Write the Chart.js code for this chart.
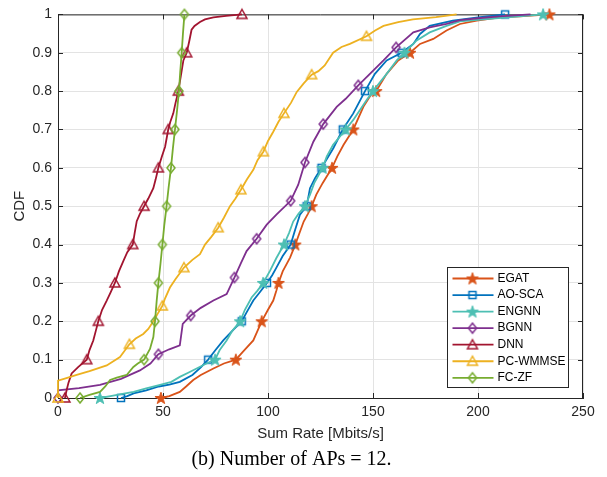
<!DOCTYPE html>
<html>
<head>
<meta charset="utf-8">
<script src="https://cdn.jsdelivr.net/npm/chart.js@4.4.1/dist/chart.umd.min.js"></script>
<style>
  html, body { margin: 0; padding: 0; background: #fff; }
  canvas { display: block; }
</style>
</head>
<body>
<canvas id="cdfChart" width="607" height="477"></canvas>
<script>
const xTicks = [0, 50, 100, 150, 200, 250];
const yTicks = [0, 0.1, 0.2, 0.3, 0.4, 0.5, 0.6, 0.7, 0.8, 0.9, 1];
const yTickLabels = ["0", "0.1", "0.2", "0.3", "0.4", "0.5", "0.6", "0.7", "0.8", "0.9", "1"];

// [sum rate, cdf] pairs
const egatLine = [[49,0],[53,0.005],[58,0.016],[61,0.03],[64.4,0.047],[68,0.06],[74,0.077],[79,0.09],[84.7,0.1],[88,0.12],[93,0.15],[95,0.175],[97,0.2],[100,0.23],[102.5,0.254],[104,0.28],[105,0.3],[107,0.33],[110.5,0.366],[113,0.4],[115,0.43],[117,0.46],[119,0.48],[120.8,0.5],[123,0.53],[126,0.56],[130.5,0.6],[133,0.63],[136,0.66],[140.6,0.7],[145.4,0.759],[149.4,0.794],[151.5,0.8],[156.5,0.845],[162,0.88],[167.6,0.9],[172.4,0.923],[178.7,0.936],[185,0.958],[191.4,0.975],[199.4,0.984],[210.5,0.992],[220,0.995],[234,1]];
const egatMarks = [[49,0],[84.7,0.1],[97,0.2],[105,0.3],[113,0.4],[120.8,0.5],[130.5,0.6],[140.6,0.7],[151.5,0.8],[167.6,0.9],[234,1]];

const aoscaLine = [[30,0],[33,0.005],[36,0.012],[42,0.02],[48,0.03],[53,0.035],[58,0.042],[64,0.06],[68,0.08],[71.5,0.1],[75,0.125],[78.7,0.15],[83,0.175],[87.5,0.2],[90,0.225],[93,0.254],[96,0.275],[99.5,0.3],[102,0.32],[104,0.34],[107,0.37],[110.8,0.4],[113,0.44],[115.2,0.478],[118.4,0.5],[120,0.547],[122.4,0.573],[125.5,0.6],[131.1,0.651],[135.6,0.7],[140.6,0.742],[146.2,0.8],[150.9,0.845],[156.5,0.88],[163.6,0.9],[169.2,0.923],[172.4,0.949],[177,0.97],[188,0.984],[200,0.992],[212.9,1]];
const aoscaMarks = [[30,0],[71.5,0.1],[87.5,0.2],[99.5,0.3],[110.8,0.4],[118.4,0.5],[125.5,0.6],[135.6,0.7],[146.2,0.8],[163.6,0.9],[212.9,1]];

const engnnLine = [[20,0],[25,0.005],[30,0.01],[36,0.016],[42,0.025],[48.6,0.034],[54,0.042],[58,0.055],[62,0.066],[66,0.077],[70,0.088],[74.8,0.1],[77,0.125],[80.3,0.15],[83,0.175],[86.7,0.2],[89,0.23],[92.2,0.262],[95,0.28],[97.7,0.3],[101,0.332],[104,0.365],[107.6,0.4],[110,0.43],[112,0.46],[114.5,0.48],[117.6,0.5],[120,0.53],[122,0.56],[126,0.6],[128,0.63],[131,0.66],[137,0.7],[140.6,0.725],[146.9,0.776],[150,0.8],[156.5,0.845],[161.3,0.88],[165,0.9],[170.8,0.932],[177,0.953],[185,0.97],[191.4,0.982],[204,0.988],[231,1]];
const engnnMarks = [[20,0],[74.8,0.1],[86.7,0.2],[97.7,0.3],[107.6,0.4],[117.6,0.5],[126,0.6],[137,0.7],[150,0.8],[165,0.9],[231,1]];

const bgnnLine = [[0,0],[0,0.02],[10,0.026],[20,0.034],[30,0.05],[39,0.072],[44,0.09],[47.8,0.114],[53,0.127],[58,0.137],[59.4,0.193],[63.2,0.215],[68,0.235],[74,0.254],[80.3,0.271],[84,0.314],[87,0.35],[89.8,0.383],[94.6,0.415],[99.4,0.452],[104,0.478],[110.8,0.514],[114.4,0.556],[117.6,0.614],[121.6,0.668],[126.3,0.714],[132.7,0.759],[137,0.78],[143,0.815],[150.2,0.854],[155,0.88],[161,0.914],[169.2,0.953],[177,0.966],[185,0.975],[191.4,0.985],[200,0.99],[210,0.995],[225,1]];
const bgnnMarks = [[0,0],[47.8,0.114],[63.2,0.215],[84,0.314],[94.6,0.415],[110.8,0.514],[117.6,0.614],[126.3,0.714],[143,0.815],[161,0.914]];

const dnnLine = [[3.3,0],[4.1,0.02],[5,0.04],[6.5,0.064],[9.7,0.081],[13.7,0.1],[15,0.125],[16.8,0.15],[18,0.175],[19.2,0.2],[21,0.23],[23.2,0.254],[25,0.275],[27.1,0.3],[29,0.33],[31.1,0.357],[33,0.38],[35.6,0.4],[36.5,0.43],[37.5,0.461],[39,0.48],[41,0.5],[43,0.52],[45.4,0.547],[46.5,0.57],[47.8,0.6],[49.5,0.63],[51,0.655],[52.5,0.7],[53.5,0.72],[54.9,0.742],[56,0.77],[57.3,0.8],[58.5,0.84],[59.7,0.88],[61.3,0.9],[62.5,0.93],[63.6,0.96],[65,0.97],[67.6,0.98],[70,0.987],[74,0.992],[80,0.996],[87.6,1]];
const dnnMarks = [[3.3,0],[13.7,0.1],[19.2,0.2],[27.1,0.3],[35.6,0.4],[41,0.5],[47.8,0.6],[52.5,0.7],[57.3,0.8],[61.3,0.9],[87.6,1]];

const wmmseLine = [[0,0],[0,0.045],[4,0.052],[8.9,0.06],[15,0.07],[23.2,0.085],[29.5,0.107],[34,0.14],[37,0.155],[40.6,0.167],[43,0.18],[45.4,0.2],[47.5,0.22],[49.7,0.24],[51,0.26],[53.3,0.288],[56,0.31],[60,0.34],[64,0.36],[67.6,0.375],[70,0.4],[73,0.42],[76.3,0.444],[79,0.47],[81.9,0.5],[84.5,0.52],[87.1,0.543],[90,0.57],[93,0.595],[95,0.62],[97.8,0.642],[100,0.67],[102.5,0.694],[105,0.72],[107.6,0.742],[111,0.77],[113.7,0.798],[117,0.82],[120.8,0.843],[124,0.852],[127,0.867],[131,0.9],[135,0.915],[139,0.923],[146.9,0.943],[151,0.958],[155,0.97],[162,0.98],[169,0.987],[180,0.993],[189.8,1]];
const wmmseMarks = [[0,0],[34,0.14],[49.7,0.24],[60,0.34],[76.3,0.444],[87.1,0.543],[97.8,0.642],[107.6,0.742],[120.8,0.843],[146.9,0.943]];

const fczfLine = [[10.5,0],[15,0.008],[20,0.016],[22.5,0.03],[24.8,0.047],[28,0.053],[32.7,0.06],[35.9,0.081],[38,0.09],[41,0.1],[43.8,0.128],[45.4,0.159],[46.2,0.2],[47,0.254],[47.8,0.3],[48.8,0.35],[49.7,0.4],[50.6,0.45],[51.7,0.5],[52.7,0.55],[53.8,0.6],[54.7,0.65],[55.7,0.7],[56.7,0.75],[57.6,0.8],[58.2,0.85],[58.9,0.9],[59.5,0.95],[60.2,1]];
const fczfMarks = [[10.5,0],[41,0.1],[46.2,0.2],[47.8,0.3],[49.7,0.4],[51.7,0.5],[53.8,0.6],[55.7,0.7],[57.6,0.8],[58.9,0.9],[60.2,1]];

const series = [
  { name: "EGAT", color: "#D95319", shape: "pentagram", line: egatLine, marks: egatMarks },
  { name: "AO-SCA", color: "#0072BD", shape: "square", line: aoscaLine, marks: aoscaMarks },
  { name: "ENGNN", color: "#4DBFB3", shape: "pentagram", line: engnnLine, marks: engnnMarks },
  { name: "BGNN", color: "#7E2F8E", shape: "diamond", line: bgnnLine, marks: bgnnMarks },
  { name: "DNN", color: "#A2142F", shape: "triangle", line: dnnLine, marks: dnnMarks },
  { name: "PC-WMMSE", color: "#EDB120", shape: "triangle", line: wmmseLine, marks: wmmseMarks },
  { name: "FC-ZF", color: "#77AC30", shape: "diamond", line: fczfLine, marks: fczfMarks },
];

const AXIS = "#262626";
const GRID = "#e3e3e3";

function makeMarker(shape, color) {
  const size = 16;
  const c = document.createElement("canvas");
  c.width = size;
  c.height = size;
  const g = c.getContext("2d");
  const m = size / 2;
  g.strokeStyle = color;
  g.fillStyle = color;
  g.lineWidth = 1.5;
  g.beginPath();
  if (shape === "pentagram") {
    for (let i = 0; i < 10; i++) {
      const a = -Math.PI / 2 + (i * Math.PI) / 5;
      const r = i % 2 ? 2.5 : 6.3;
      const px = m + r * Math.cos(a);
      const py = m + 0.5 + r * Math.sin(a);
      if (i === 0) g.moveTo(px, py);
      else g.lineTo(px, py);
    }
    g.closePath();
    g.fill();
    g.lineWidth = 1;
    g.stroke();
  } else if (shape === "square") {
    g.rect(m - 3.5, m - 3.5, 7, 7);
    g.stroke();
  } else if (shape === "diamond") {
    g.moveTo(m, m - 5);
    g.lineTo(m + 4, m);
    g.lineTo(m, m + 5);
    g.lineTo(m - 4, m);
    g.closePath();
    g.stroke();
  } else {
    g.moveTo(m, m - 5);
    g.lineTo(m + 5, m + 4);
    g.lineTo(m - 5, m + 4);
    g.closePath();
    g.stroke();
  }
  return c;
}

const markerImgs = series.map((s) => makeMarker(s.shape, s.color));

const datasets = [];
series.forEach((s, i) => {
  datasets.push({
    label: s.name,
    data: s.line.map(([x, y]) => ({ x, y })),
    showLine: true,
    borderColor: s.color,
    borderWidth: 1.8,
    pointRadius: 0,
    fill: false,
    tension: 0,
    clip: false,
    order: 2 * (series.length - 1 - i) + 1,
  });
  datasets.push({
    label: s.name + " markers",
    data: s.marks.map(([x, y]) => ({ x, y })),
    showLine: false,
    pointStyle: markerImgs[i],
    pointRadius: 5,
    clip: false,
    order: 2 * (series.length - 1 - i),
  });
});

// box around the axes with inward tick marks (matlab style)
const axesBox = {
  id: "axesBox",
  beforeDatasetsDraw(chart) {
    const { ctx, chartArea: a, scales } = chart;
    ctx.save();
    ctx.strokeStyle = AXIS;
    ctx.lineWidth = 1;
    ctx.beginPath();
    ctx.moveTo(a.left, a.top + 0.5);
    ctx.lineTo(a.right, a.top + 0.5);
    ctx.moveTo(a.right - 0.5, a.top);
    ctx.lineTo(a.right - 0.5, a.bottom);
    const tl = 5;
    xTicks.forEach((v) => {
      const px = Math.round(scales.x.getPixelForValue(v)) + 0.5;
      ctx.moveTo(px, a.bottom);
      ctx.lineTo(px, a.bottom - tl);
      ctx.moveTo(px, a.top);
      ctx.lineTo(px, a.top + tl);
    });
    yTicks.forEach((v) => {
      const py = Math.round(scales.y.getPixelForValue(v)) + 0.5;
      ctx.moveTo(a.left, py);
      ctx.lineTo(a.left + tl, py);
      ctx.moveTo(a.right, py);
      ctx.lineTo(a.right - tl, py);
    });
    ctx.stroke();
    ctx.restore();
  },
};

const boxLegend = {
  id: "boxLegend",
  afterDraw(chart) {
    const { ctx, chartArea: a } = chart;
    const w = 121;
    const h = 120;
    const left = Math.round(a.right - 15 - w) + 0.5;
    const top = Math.round(a.bottom - 11 - h) + 0.5;
    ctx.save();
    ctx.fillStyle = "#fff";
    ctx.fillRect(left, top, w, h);
    ctx.strokeStyle = AXIS;
    ctx.lineWidth = 1;
    ctx.strokeRect(left, top, w, h);
    ctx.font = '12px "Liberation Sans", Arial, sans-serif';
    ctx.textBaseline = "middle";
    ctx.fillStyle = "#000";
    series.forEach((s, i) => {
      const y = top + 11 + i * 16.55;
      ctx.strokeStyle = s.color;
      ctx.lineWidth = 1.8;
      ctx.beginPath();
      ctx.moveTo(left + 5, y);
      ctx.lineTo(left + 46, y);
      ctx.stroke();
      const img = markerImgs[i];
      ctx.drawImage(img, left + 25 - img.width / 2, y - img.height / 2);
      ctx.fillText(s.name, left + 50, y);
    });
    ctx.restore();
  },
};

Chart.defaults.font.family = '"Liberation Sans", Arial, Helvetica, sans-serif';
Chart.defaults.color = AXIS;

new Chart(document.getElementById("cdfChart"), {
  type: "scatter",
  data: { datasets },
  options: {
    responsive: false,
    animation: false,
    events: [],
    layout: { padding: { left: 0, right: 24, top: 12, bottom: 0 } },
    scales: {
      x: {
        type: "linear",
        min: 0,
        max: 250,
        afterBuildTicks: (s) => { s.ticks = xTicks.map((v) => ({ value: v })); },
        afterFit: (s) => { s.height = 50; },
        grid: { color: GRID, drawTicks: false },
        border: { color: AXIS, width: 1 },
        ticks: { padding: 6, font: { size: 14 }, color: AXIS, maxRotation: 0 },
        title: {
          display: true,
          text: "Sum Rate [Mbits/s]",
          font: { size: 15 },
          color: AXIS,
          padding: { top: 0, bottom: 5 },
        },
      },
      y: {
        type: "linear",
        min: 0,
        max: 1,
        afterBuildTicks: (s) => { s.ticks = yTicks.map((v) => ({ value: v })); },
        afterFit: (s) => { s.width = 58; },
        grid: { color: GRID, drawTicks: false },
        border: { color: AXIS, width: 1 },
        ticks: {
          padding: 6,
          font: { size: 14 },
          color: AXIS,
          callback: (v, i) => yTickLabels[i],
        },
        title: {
          display: true,
          text: "CDF",
          font: { size: 15 },
          color: AXIS,
          padding: { top: 11, bottom: 0 },
        },
      },
    },
    plugins: {
      legend: { display: false },
      tooltip: { enabled: false },
      title: {
        display: true,
        position: "bottom",
        text: "(b) Number of APs = 12.",
        font: { family: '"Liberation Serif", "Times New Roman", serif', size: 20, weight: "normal" },
        color: "#000",
        padding: { top: 0, bottom: 5 },
      },
    },
  },
  plugins: [axesBox, boxLegend],
});
</script>
</body>
</html>
